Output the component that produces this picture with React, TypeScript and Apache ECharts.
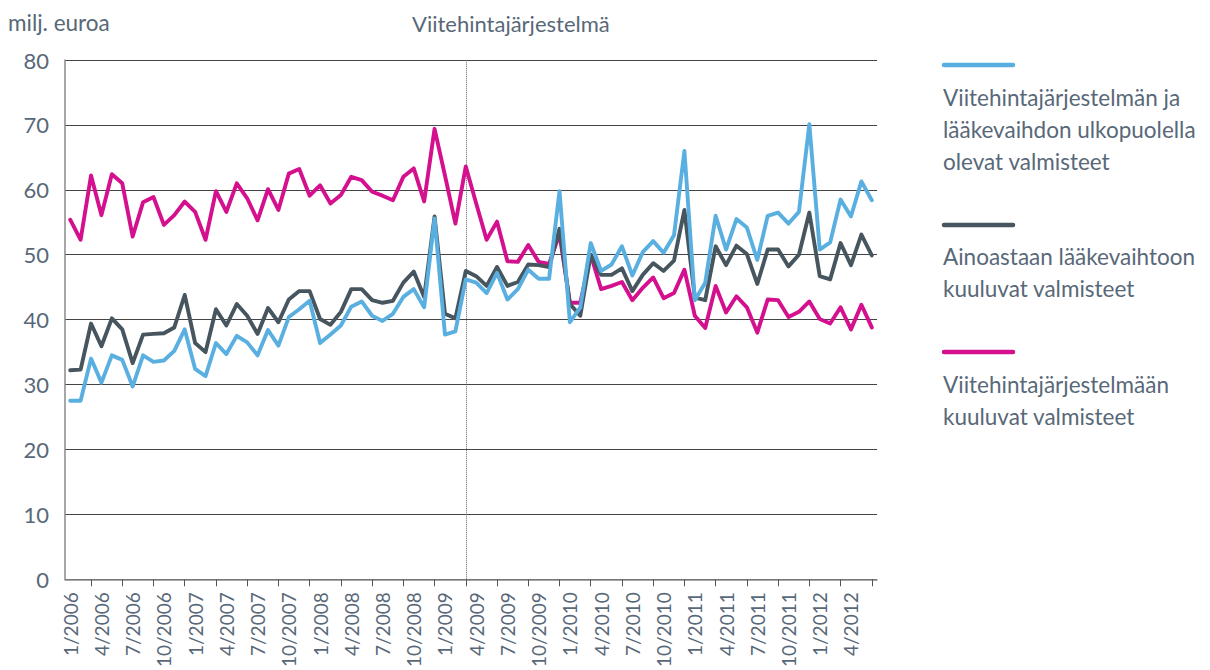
import React, { useEffect, useRef } from "react";
import * as echarts from "echarts";

// Monthly categories 1/2006 ... 6/2012
const startYear = 2006;
const monthCount = 78;
const categories: string[] = [];
for (let i = 0; i < monthCount; i++) {
  const y = startYear + Math.floor(i / 12);
  const m = (i % 12) + 1;
  categories.push(`${m}/${y}`);
}

const seriesNames = [
  "Viitehintajärjestelmän ja lääkevaihdon ulkopuolella olevat valmisteet",
  "Ainoastaan lääkevaihtoon kuuluvat valmisteet",
  "Viitehintajärjestelmään kuuluvat valmisteet",
];

// Viitehintajärjestelmän ja lääkevaihdon ulkopuolella olevat valmisteet (light blue)
const outsideValues = [
  27.5, 27.5, 34.0, 30.3, 34.5, 33.8, 29.7, 34.5, 33.5, 33.7,
  35.2, 38.5, 32.4, 31.3, 36.4, 34.7, 37.5, 36.5, 34.5, 38.4,
  36.0, 40.4, 41.6, 42.9, 36.4, 37.7, 39.1, 42.0, 42.8, 40.6,
  39.8, 40.9, 43.5, 44.7, 41.9, 55.6, 37.7, 38.2, 46.2, 45.7,
  44.1, 47.2, 43.1, 44.7, 47.7, 46.3, 46.3, 59.8, 39.6, 41.9,
  51.8, 47.5, 48.5, 51.3, 46.8, 50.4, 52.1, 50.3, 53.0, 66.0,
  43.0, 45.7, 56.0, 50.8, 55.5, 54.2, 49.2, 56.0, 56.5, 54.8,
  56.6, 70.1, 50.8, 51.9, 58.5, 55.9, 61.3, 58.4,
];

// Ainoastaan lääkevaihtoon kuuluvat valmisteet (dark grey)
const substitutionValues = [
  32.2, 32.3, 39.4, 35.9, 40.2, 38.5, 33.3, 37.7, 37.8, 37.9,
  38.8, 43.8, 36.4, 35.0, 41.6, 39.1, 42.4, 40.6, 37.8, 41.8,
  39.6, 43.1, 44.4, 44.4, 40.1, 39.2, 41.2, 44.7, 44.7, 43.0,
  42.6, 42.9, 45.7, 47.4, 43.5, 55.9, 40.9, 40.2, 47.5, 46.7,
  45.2, 48.1, 45.2, 45.8, 48.5, 48.4, 48.1, 54.0, 42.4, 40.6,
  50.0, 46.9, 46.9, 47.9, 44.4, 46.9, 48.7, 47.5, 49.1, 56.9,
  43.4, 43.0, 51.3, 48.4, 51.4, 50.1, 45.5, 50.8, 50.8, 48.2,
  50.0, 56.5, 46.7, 46.2, 51.8, 48.4, 53.1, 49.9,
];

// Viitehintajärjestelmään kuuluvat valmisteet (magenta)
const referencePriceValues = [
  55.4, 52.3, 62.2, 56.1, 62.4, 61.0, 52.8, 58.1, 58.9, 54.6,
  56.1, 58.2, 56.6, 52.3, 59.8, 56.6, 61.0, 58.7, 55.3, 60.1,
  56.9, 62.5, 63.2, 59.1, 60.7, 57.9, 59.2, 62.0, 61.5, 59.7,
  59.1, 58.4, 62.0, 63.3, 58.2, 69.4, 62.2, 54.8, 63.6, 57.9,
  52.3, 55.1, 49.0, 48.9, 51.5, 48.9, 48.6, 53.2, 42.6, 42.6,
  50.0, 44.7, 45.2, 45.8, 43.0, 44.9, 46.5, 43.3, 44.1, 47.7,
  40.6, 38.7, 45.2, 41.1, 43.6, 41.9, 38.0, 43.1, 43.0, 40.4,
  41.2, 42.8, 40.1, 39.4, 41.9, 38.5, 42.3, 38.8,
];

const referenceStart = "3/2009";
const unitLabel = "milj. euroa";
const markerTitle = "Viitehintajärjestelmä";
const legendLines = [
  ["Viitehintajärjestelmän ja", "lääkevaihdon ulkopuolella", "olevat valmisteet"],
  ["Ainoastaan lääkevaihtoon", "kuuluvat valmisteet"],
  ["Viitehintajärjestelmään", "kuuluvat valmisteet"],
];

const BLUE = "#5aafe1";
const GREY = "#47555f";
const MAGENTA = "#d4108e";
const TEXT = "#586878";
const FONT = "Lato, 'Noto Sans', sans-serif";

export default function App() {
  const ref = useRef<HTMLDivElement>(null);

  useEffect(() => {
    if (!ref.current) return;
    const chart = echarts.init(ref.current, undefined, { renderer: "svg" });

    const lineStyle = (color: string) => ({ color, width: 3.9, join: "round" as const, cap: "round" as const });

    const legendColors = [BLUE, GREY, MAGENTA];
    const legendLineY = [65, 225, 352];
    const legendTextTop = [81, 240, 368];
    const graphic: any[] = [
      {
        type: "text",
        left: 8,
        top: 11,
        style: { text: unitLabel, fill: TEXT, font: `22.5px ${FONT}` },
      },
      {
        type: "text",
        left: 412,
        top: 12,
        style: { text: markerTitle, fill: TEXT, font: `22px ${FONT}` },
      },
    ];
    legendColors.forEach((c, i) => {
      graphic.push({
        type: "line",
        shape: { x1: 944, y1: legendLineY[i], x2: 1013, y2: legendLineY[i] },
        style: { stroke: c, lineWidth: 4.5, lineCap: "round" },
      });
      graphic.push({
        type: "text",
        x: 943,
        y: legendTextTop[i],
        style: {
          text: legendLines[i].join("\n"),
          fill: TEXT,
          font: `22.5px ${FONT}`,
          lineHeight: 32,
          verticalAlign: "top",
        },
      });
    });

    chart.setOption({
      animation: false,
      backgroundColor: "#ffffff",
      textStyle: { fontFamily: FONT },
      grid: { left: 65, top: 60, width: 812, height: 523, containLabel: false },
      xAxis: {
        type: "category",
        data: categories,
        boundaryGap: true,
        axisLine: { show: true, lineStyle: { color: "#8a8a8a", width: 1.5 } },
        axisTick: {
          show: true,
          alignWithLabel: true,
          interval: (index: number) => index % 3 === 2,
          length: 7,
          lineStyle: { color: "#555", width: 1 },
        },
        axisLabel: {
          interval: 2,
          rotate: 90,
          margin: 13,
          color: TEXT,
          fontSize: 19,
          fontFamily: FONT,
          padding: [6, 0, 0, 0],
        },
        splitLine: { show: false },
      },
      yAxis: {
        type: "value",
        min: 0,
        max: 80,
        interval: 10,
        axisLine: { show: true, lineStyle: { color: "#8a8a8a", width: 1.5 } },
        axisTick: { show: false },
        axisLabel: { color: TEXT, fontSize: 22, margin: 16, fontFamily: FONT },
        splitLine: { show: true, lineStyle: { color: "#444", width: 1 } },
      },
      series: [
        {
          name: seriesNames[2],
          type: "line",
          data: referencePriceValues,
          symbol: "none",
          lineStyle: lineStyle(MAGENTA),
          itemStyle: { color: MAGENTA },
          z: 2,
        },
        {
          name: seriesNames[1],
          type: "line",
          data: substitutionValues,
          symbol: "none",
          lineStyle: lineStyle(GREY),
          itemStyle: { color: GREY },
          z: 3,
        },
        {
          name: seriesNames[0],
          type: "line",
          data: outsideValues,
          symbol: "none",
          lineStyle: lineStyle(BLUE),
          itemStyle: { color: BLUE },
          z: 4,
          markLine: {
            silent: true,
            symbol: ["none", "none"],
            label: { show: false },
            lineStyle: { type: "dotted", color: "#666", width: 1 },
            data: [{ xAxis: referenceStart }],
            z: 1,
          },
        },
      ],
      graphic,
    });

    return () => chart.dispose();
  }, []);

  return (
    <div
      ref={ref}
      style={{ position: "absolute", left: 0, top: 0, width: 1210, height: 670, background: "#fff" }}
    />
  );
}
